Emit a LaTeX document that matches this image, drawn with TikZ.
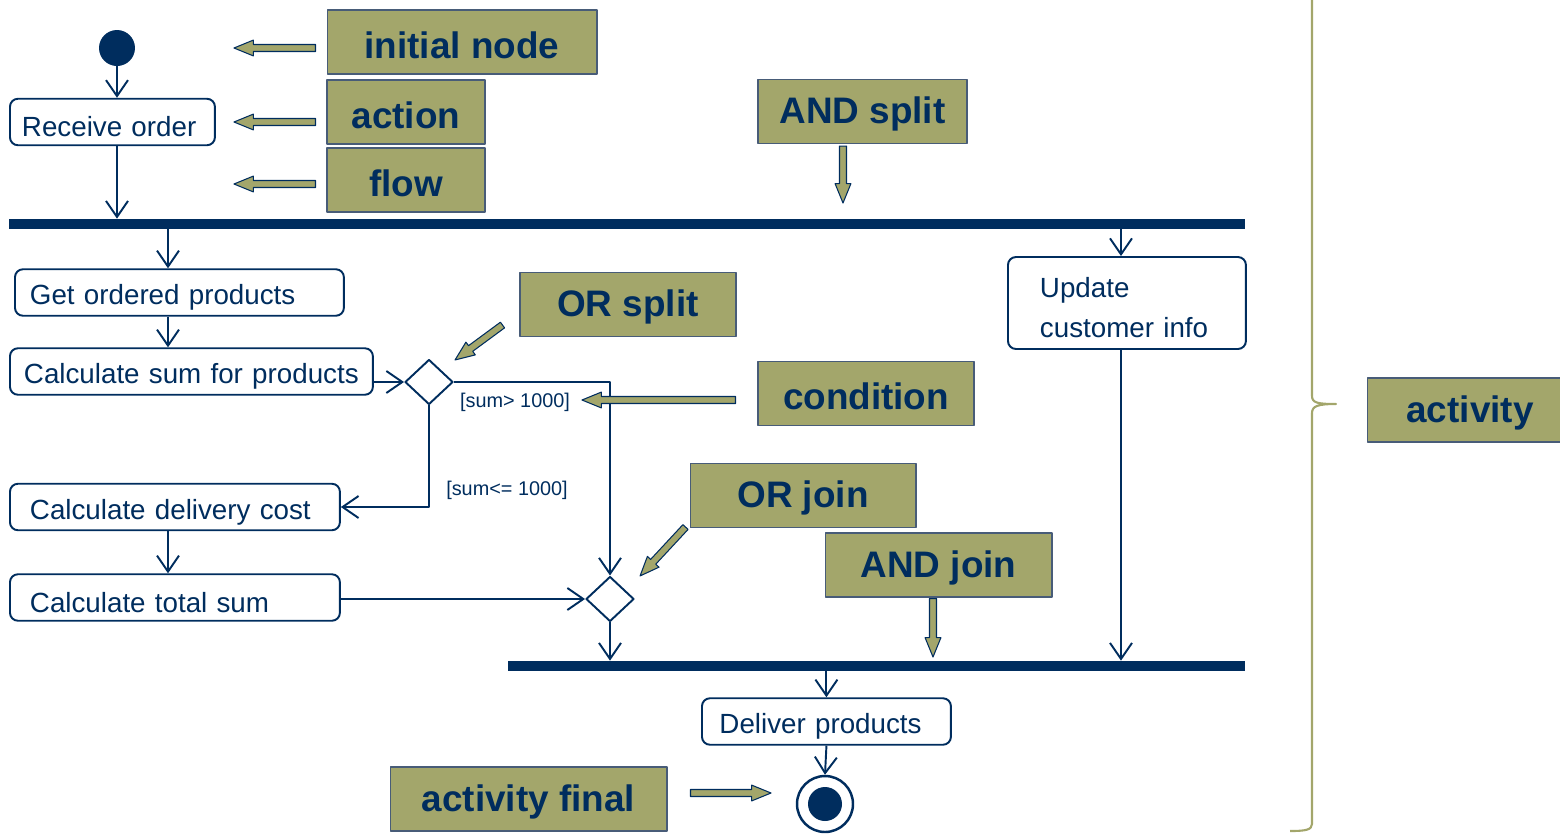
\documentclass[tikz,border=0pt]{standalone}
\usepackage{fontspec}
\setmainfont{Liberation Sans}
\usetikzlibrary{arrows.meta,shapes.geometric,calc}
\definecolor{navy}{RGB}{0,45,94}
\definecolor{olivefill}{RGB}{163,166,107}
\definecolor{notebd}{RGB}{72,92,120}
\newcommand{\actfont}{\fontsize{15.8}{22.7}\selectfont}
\newcommand{\notefont}{\fontsize{21}{25}\selectfont\bfseries}
\newcommand{\guardfont}{\fontsize{11.3}{13}\selectfont}
% olive block arrow from #1 to #2 (named coordinates)
\newcommand{\hint}[2]{%
  \draw[hintarrow] let \p1=($(#2)-(#1)$), \n1={atan2(\y1,\x1)}, \n2={veclen(\x1,\y1)} in
    [shift={(#1)}, rotate=\n1] (0pt,-2pt) -- ({\n2-11pt},-2pt) -- ({\n2-11pt},-4.5pt) -- (\n2,0pt)
    -- ({\n2-11pt},4.5pt) -- ({\n2-11pt},2pt) -- (0pt,2pt) -- cycle;}
\begin{document}
\begin{tikzpicture}[x=0.02cm, y=-0.02cm, line join=round,
    act/.style={draw=navy, line width=1.1pt, rounded corners=0.16cm, anchor=west, align=left,
      inner xsep=0.3cm, inner ysep=0pt, minimum height=0.93cm, text=navy, font=\actfont,
      execute at begin node={\rule{0pt}{17pt}}},
    note/.style={draw=notebd, line width=0.6pt, fill=olivefill, text=navy, font=\notefont,
      minimum height=1.28cm, inner sep=0pt, execute at begin node={\rule{0pt}{18.5pt}}},
    flow/.style={draw=navy, line width=1.1pt, -{Straight Barb[length=0.32cm, width=0.44cm]}},
    bar/.style={fill=navy, inner sep=0pt, minimum height=0.2cm},
    choice/.style={diamond, draw=navy, line width=1.1pt, fill=white, minimum width=0.96cm,
      minimum height=0.9cm, inner sep=0pt},
    initial/.style={circle, fill=navy, minimum size=0.72cm, inner sep=0pt},
    final/.style={circle, draw=navy, line width=1.4pt, fill=white, minimum size=1.12cm, inner sep=0pt,
      path picture={\fill[navy] (path picture bounding box.center) circle (0.34cm);}},
    guard/.style={text=navy, font=\guardfont, inner sep=0pt},
    hintarrow/.style={draw=navy, line width=0.6pt, fill=olivefill}]
\useasboundingbox (0,0) rectangle (1560,833);

% activity nodes
\node[initial] (init) at (117,48) {};
\node[act, text width=3.62cm, inner xsep=0.24cm] (recv) at (9,122) {Receive order};
\node[bar, minimum width=24.72cm] (fork) at (627,224) {};
\node[act, text width=5.98cm] (getp) at (14,292.5) {Get ordered products};
\node[act, text width=6.7cm, inner xsep=0.28cm] (csum) at (9,371.5) {Calculate sum for products};
\node[choice] (split) at (429,382) {};
\node[act, text width=5.8cm, inner xsep=0.4cm] (dcost) at (9,507) {Calculate delivery cost};
\node[act, text width=5.8cm, inner xsep=0.4cm] (tsum) at (9,597.5) {Calculate total sum};
\node[choice] (merge) at (610,599) {};
\node[act, text width=3.48cm, inner xsep=0.64cm, minimum height=1.84cm] (update) at (1007,303) {Update\\customer info};
\node[bar, minimum width=14.74cm] (join) at (876.5,666) {};
\node[act, text width=4.28cm, inner xsep=0.35cm] (deliver) at (701,721.5) {Deliver products};
\node[final] (final) at (825,804) {};

\coordinate (lx) at (168,0);
\coordinate (rx) at (1121,0);

% control flow
\draw[flow] (init) -- (init |- recv.north);
\draw[flow] (init |- recv.south) -- (init |- fork.north);
\draw[flow] (lx |- fork.south) -- (lx |- getp.north);
\draw[flow] (lx |- getp.south) -- (lx |- csum.north);
\draw[flow] (csum.east |- split) -- (split.west);
\draw[flow] (split.east) -| (merge.north);
\draw[flow] (split.south) |- (dcost.east);
\draw[flow] (lx |- dcost.south) -- (lx |- tsum.north);
\draw[flow] (tsum.east |- merge) -- (merge.west);
\draw[flow] (merge.south) -- (merge |- join.north);
\draw[flow] (rx |- fork.south) -- (rx |- update.north);
\draw[flow] (rx |- update.south) -- (rx |- join.north);
\draw[flow] (join.south -| deliver) -- (deliver.north);
\draw[flow] (deliver.south) -- (final.north);

\node[guard] (gt) at (515,402) {[sum> 1000]};
\node[guard] (le) at (507,490) {[sum<= 1000]};

% notes
\node[note, minimum width=5.4cm] (initnote) at (462,42) {initial node};
\node[note, minimum width=3.16cm] (actnote) at (406,112) {action};
\node[note, minimum width=3.16cm] (flownote) at (406,180) {flow};
\node[note, minimum width=4.18cm] (andsplit) at (862.5,111.5) {AND split};
\node[note, minimum width=4.32cm] (orsplit) at (628,304.5) {OR split};
\node[note, minimum width=4.32cm] (condnote) at (866,393.5) {condition};
\node[note, minimum width=4.52cm] (orjoin) at (803,495.5) {OR join};
\node[note, minimum width=4.54cm] (andjoin) at (938.5,565) {AND join};
\node[note, minimum width=5.54cm] (finalnote) at (528.5,799) {activity final};
\node[note, minimum width=4.12cm] (actvnote) at (1470,410) {activity};

% callout arrows
\coordinate (s1) at ($(initnote.west)+(-11,6)$);   \coordinate (t1) at (234,48);
\coordinate (s2) at ($(actnote.west)+(-11,10)$);   \coordinate (t2) at (234,122);
\coordinate (s3) at ($(flownote.west)+(-11,4)$);   \coordinate (t3) at (234,184);
\coordinate (s4) at ($(andsplit.south)+(-19.5,2)$); \coordinate (t4) at (843,203);
\coordinate (s5) at ($(orsplit.south west)+(-17,-12)$); \coordinate (t5) at (455,360);
\coordinate (s6) at ($(condnote.west)+(-22,6.5)$);  \coordinate (t6) at (582,400);
\coordinate (s7) at ($(orjoin.south west)+(-4,-1)$); \coordinate (t7) at (640,576);
\coordinate (s8) at ($(andjoin.south)+(-5.5,1)$);   \coordinate (t8) at (933,657);
\coordinate (s9) at ($(finalnote.east)+(23,-6)$);   \coordinate (t9) at (771,793);
\foreach \i in {1,...,9}{\hint{s\i}{t\i}}

% brace
\draw[olivefill, line width=1.2pt] (1312,-10) -- (1312,396) .. controls (1312,403) and (1318,404) .. (1336,404)
  .. controls (1318,404) and (1312,406) .. (1312,413) -- (1312,824) .. controls (1312,830) and (1305,831) .. (1290,831);
\end{tikzpicture}
\end{document}
